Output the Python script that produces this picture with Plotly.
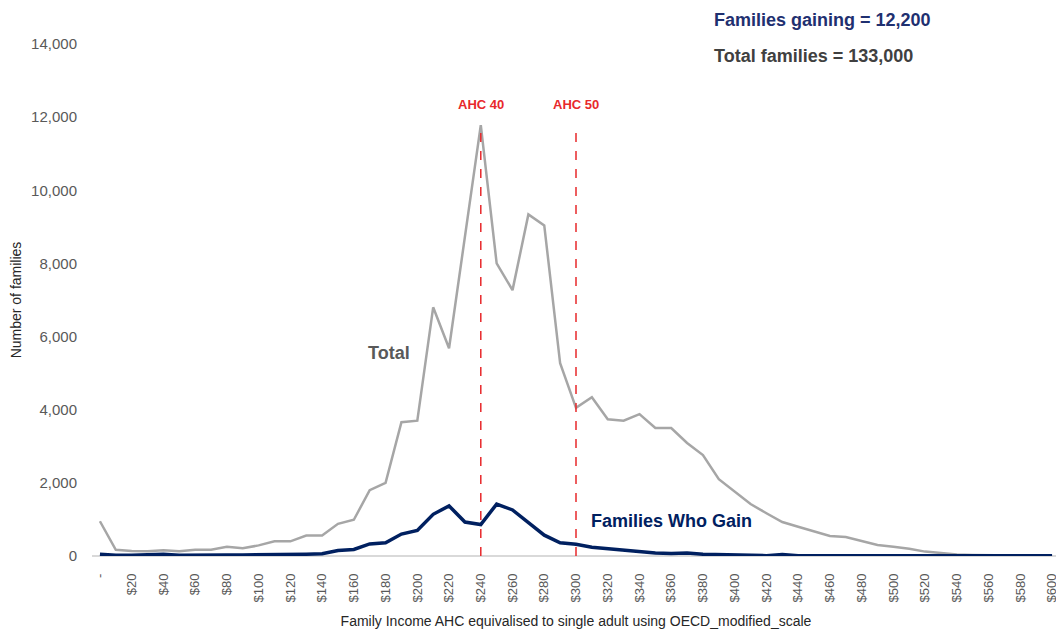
import plotly.graph_objects as go

categories = ["-"] + [f"${v}" for v in range(10, 610, 10)]

total = [950, 170, 140, 130, 160, 130, 170, 170, 250, 210,
         290, 400, 400, 560, 560, 880, 990, 1800, 2000, 3660,
         3700, 6800, 5680, 8750, 11780, 8000, 7270, 9340, 9040, 5270,
         4050, 4340, 3740, 3700, 3880, 3500, 3500, 3090, 2760, 2100,
         1750, 1420, 1170, 930, 800, 680, 550, 520, 420, 300,
         250, 200, 120, 70, 40, 30, 20, 10, 5, 0, 0]

gainers = [50, 20, 20, 30, 50, 20, 30, 30, 30, 30,
           30, 30, 30, 50, 60, 150, 180, 330, 360, 600,
           700, 1140, 1370, 930, 860, 1420, 1260, 900, 570, 360,
           320, 240, 200, 160, 120, 80, 70, 80, 50, 40,
           50, 40, 10, 40, 10, 10, 10, 10, 10, 10,
           10, 10, 10, 10, 10, 10, 10, 10, 10, 10, 10]

tick_labels = categories[::2]
ref_lines = ["$240", "$300"]
ref_labels = ["AHC 40", "AHC 50"]
ref_top = 11800

x = list(range(len(categories)))
tick_vals = x[::2]

FONT = "Liberation Sans"
GREY = "#a6a6a6"
NAVY = "#002060"
RED = "#e8282b"

fig = go.Figure()
fig.add_trace(go.Scatter(x=x, y=total, mode="lines", name="Total",
                         line=dict(color=GREY, width=2.5)))
fig.add_trace(go.Scatter(x=x, y=gainers, mode="lines", name="Families Who Gain",
                         line=dict(color=NAVY, width=3.5)))

for cat, lab in zip(ref_lines, ref_labels):
    xi = categories.index(cat)
    fig.add_shape(type="line", x0=xi, x1=xi, y0=0, y1=ref_top, xref="x", yref="y",
                  line=dict(color=RED, width=1.5, dash="dash"))
    fig.add_annotation(x=xi, y=ref_top, xref="x", yref="y", text="<b>" + lab + "</b>",
                       showarrow=False, yshift=20,
                       font=dict(family=FONT, size=13, color=RED))

fig.add_annotation(x=18.2, y=5550, xref="x", yref="y", text="<b>Total</b>",
                   showarrow=False, font=dict(family=FONT, size=18, color="#595959"))
fig.add_annotation(x=36, y=960, xref="x", yref="y", text="<b>Families Who Gain</b>",
                   showarrow=False, font=dict(family=FONT, size=18, color=NAVY))

fig.add_annotation(x=0.641, y=1.047, xref="paper", yref="paper", xanchor="left",
                   yanchor="middle",
                   text="<b>Families gaining = 12,200</b>", showarrow=False,
                   font=dict(family=FONT, size=18, color="#1f3070"))
fig.add_annotation(x=0.641, y=0.977, xref="paper", yref="paper", xanchor="left",
                   yanchor="middle",
                   text="<b>Total families = 133,000</b>", showarrow=False,
                   font=dict(family=FONT, size=18, color="#404040"))

fig.update_layout(
    width=1056, height=626,
    margin=dict(l=84, r=4, t=36, b=78),
    plot_bgcolor="white", paper_bgcolor="white",
    showlegend=False,
    font=dict(family=FONT, color="#595959"),
    xaxis=dict(range=[-0.5, 60.5], tickmode="array", tickvals=tick_vals,
               ticktext=tick_labels, tickangle=-90, showgrid=False,
               zeroline=False, showline=False, ticks="", ticklabelstandoff=14,
               tickfont=dict(family=FONT, size=13, color="#595959"),
               title=dict(text="Family Income AHC equivalised to single adult using OECD_modified_scale",
                          font=dict(family=FONT, size=14, color="#262626"), standoff=14)),
    yaxis=dict(range=[0, 14000], tickvals=list(range(0, 14001, 2000)),
               tickformat=",d", showgrid=False, zeroline=True, zerolinecolor="#d9d9d9",
               zerolinewidth=1.5, showline=False, ticks="", ticklabelstandoff=14,
               tickfont=dict(family=FONT, size=15, color="#595959"),
               title=dict(text="Number of families",
                          font=dict(family=FONT, size=14, color="#262626"), standoff=8)),
)

fig.write_html("out.html")
